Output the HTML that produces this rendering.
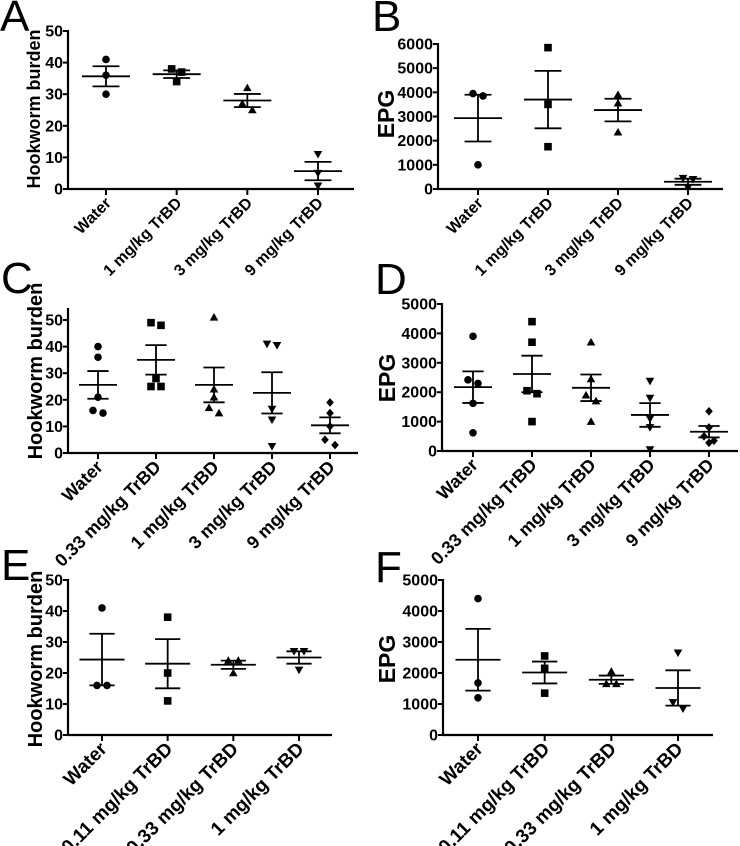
<!DOCTYPE html>
<html><head><meta charset="utf-8">
<style>
html,body{margin:0;padding:0;background:#fff;}
svg{display:block;font-family:"Liberation Sans",Arial,sans-serif;}
</style></head>
<body>
<svg id="fig" width="740" height="846" viewBox="0 0 740 846" xmlns="http://www.w3.org/2000/svg"></svg>
<script>
// ---- Data ----
const catsA = ["Water","1 mg/kg TrBD","3 mg/kg TrBD","9 mg/kg TrBD"];
const valsA = [[41,36,30],[38,37,34],[32,27,25],[11,5,1]];
const ticksA = [0,10,20,30,40,50];

const catsB = ["Water","1 mg/kg TrBD","3 mg/kg TrBD","9 mg/kg TrBD"];
const valsB = [[3950,3850,1000],[5850,3500,1750],[3900,3550,2350],[450,400,50]];
const ticksB = [0,1000,2000,3000,4000,5000,6000];

const catsC = ["Water","0.33 mg/kg TrBD","1 mg/kg TrBD","3 mg/kg TrBD","9 mg/kg TrBD"];
const valsC = [[40,36,21,16,15],[49,48,28,25,25],[51,24,21,17,15],[41,40.5,16.5,12.5,2.5],[19,15,10,5,3]];
const ticksC = [0,10,20,30,40,50];

const catsD = ["Water","0.33 mg/kg TrBD","1 mg/kg TrBD","3 mg/kg TrBD","9 mg/kg TrBD"];
const valsD = [[3900,2420,2300,1620,620],[4400,3700,2050,1950,1000],[3700,2450,1900,1700,1000],[2380,1800,1100,800,50],[1350,800,500,350,280]];
const ticksD = [0,1000,2000,3000,4000,5000];

const catsE = ["Water","0.11 mg/kg TrBD","0.33 mg/kg TrBD","1 mg/kg TrBD"];
const valsE = [[41,16,16],[38,20,11],[24,24,20],[27,27,21]];
const ticksE = [0,10,20,30,40,50];

const catsF = ["Water","0.11 mg/kg TrBD","0.33 mg/kg TrBD","1 mg/kg TrBD"];
const valsF = [[4400,1680,1200],[2550,2150,1350],[2050,1650,1650],[2650,1050,850]];
const ticksF = [0,1000,2000,3000,4000,5000];

const markers = ["circle","square","triangle","tridown","diamond"];
const NS = "http://www.w3.org/2000/svg";
const svg = document.getElementById('fig');

function mk(tag, attrs, parent){
  const e = document.createElementNS(NS, tag);
  for (const k in attrs) e.setAttribute(k, attrs[k]);
  (parent||svg).appendChild(e);
  return e;
}

function marker(g, type, x, y){
  const r = 3.8;
  let e;
  if (type==="circle") e = mk('circle',{cx:x,cy:y,r:r,fill:'#000'},g);
  else if (type==="square") e = mk('rect',{x:x-r,y:y-r,width:2*r,height:2*r,fill:'#000'},g);
  else if (type==="triangle") e = mk('polygon',{points:`${x},${y-r-0.5} ${x-r-0.5},${y+r-0.5} ${x+r+0.5},${y+r-0.5}`,fill:'#000'},g);
  else if (type==="tridown") e = mk('polygon',{points:`${x},${y+r+0.5} ${x-r-0.5},${y-r+0.5} ${x+r+0.5},${y-r+0.5}`,fill:'#000'},g);
  else e = mk('polygon',{points:`${x},${y-r-0.5} ${x+r},${y} ${x},${y+r+0.5} ${x-r},${y}`,fill:'#000'},g);
  
  
}

function panel(p){
  const g = mk('g',{});
  
  
  const ymax = p.ticks[p.ticks.length-1];
  const y = v => p.y0 - (v/ymax)*(p.y0 - p.yTop);
  const n = p.cats.length;
  const x = i => p.cx0 + i*(p.cx1 - p.cx0)/(n-1);

  const L = mk('text',{x:p.lx,y:p.ly,'font-size':44,fill:'#000'},g);
  L.textContent = p.letter;
  
  

  const yax = mk('line',{x1:p.ax,y1:p.axTop,x2:p.ax,y2:p.y0+1,stroke:'#000','stroke-width':2.2},g);
  
  
  const xax = mk('line',{x1:p.ax-1,y1:p.y0,x2:p.axEnd,y2:p.y0,stroke:'#000','stroke-width':2.2},g);
  
  

  p.ticks.forEach(t=>{
    mk('line',{x1:p.ax-5,y1:y(t),x2:p.ax,y2:y(t),stroke:'#000','stroke-width':2},g);
    const tl = mk('text',{x:p.ax-5,y:y(t)+5.5,'font-size':16,'font-weight':'bold','text-anchor':'end'},g);
    tl.textContent = t;
    
    
  });

  const tt = mk('text',{x:0,y:0,'font-size':p.titleSize,'font-weight':'bold','text-anchor':'middle',transform:`translate(${p.tx},${p.ty}) rotate(-90)`},g);
  tt.textContent = p.title;
  
  

  p.cats.forEach((c,i)=>{
    const cx = x(i);
    mk('line',{x1:cx,y1:p.y0,x2:cx,y2:p.y0+6,stroke:'#000','stroke-width':2},g);
    const cl = mk('text',{x:0,y:0,'font-size':p.catSize,'font-weight':'bold','text-anchor':'end',transform:`translate(${cx+6},${p.y0+15}) rotate(-45)`},g);
    cl.textContent = c;
    
    

    const vals = p.vals[i];
    const m = vals.reduce((a,b)=>a+b,0)/vals.length;
    const sd = Math.sqrt(vals.reduce((a,b)=>a+(b-m)*(b-m),0)/(vals.length-1));
    const se = sd/Math.sqrt(vals.length);
    const hw = p.meanW/2, cw = p.meanW*0.28;
    const ml = mk('line',{x1:cx-hw,y1:y(m),x2:cx+hw,y2:y(m),stroke:'#000','stroke-width':1.8},g);
    
    
    mk('line',{x1:cx,y1:y(m+se),x2:cx,y2:y(m-se),stroke:'#000','stroke-width':1.8},g);
    mk('line',{x1:cx-cw,y1:y(m+se),x2:cx+cw,y2:y(m+se),stroke:'#000','stroke-width':1.8},g);
    mk('line',{x1:cx-cw,y1:y(m-se),x2:cx+cw,y2:y(m-se),stroke:'#000','stroke-width':1.8},g);

    const ys = vals.map(v=>y(v));
    const off = ys.map(()=>0);
    for (let a=0;a<ys.length;a++){
      for (let b=0;b<a;b++){
        if (Math.abs(ys[a]-ys[b])<7 && off[a]===off[b]){
          off[b] = off[b]===0 ? -5 : off[b];
          off[a] = off[b] <= 0 ? 5 : -5;
        }
      }
    }
    vals.forEach((v,k)=>marker(g, markers[i], cx+off[k], ys[k]));
  });
}

panel({letter:'A',lx:0,ly:31,cats:catsA,vals:valsA,ticks:ticksA,y0:189,yTop:31,axTop:30,ax:68,axEnd:354,cx0:106,cx1:318,meanW:48,title:'Hookworm burden',titleSize:18,tx:40,ty:109,catSize:16});
panel({letter:'B',lx:372,ly:31,cats:catsB,vals:valsB,ticks:ticksB,y0:189,yTop:44,axTop:43,ax:438,axEnd:723,cx0:478,cx1:688,meanW:48,title:'EPG',titleSize:23,tx:394,ty:114,catSize:16});
panel({letter:'C',lx:1,ly:293,cats:catsC,vals:valsC,ticks:ticksC,y0:453,yTop:320,axTop:308,ax:68,axEnd:358,cx0:98,cx1:330,meanW:38,title:'Hookworm burden',titleSize:20,tx:42,ty:371,catSize:18});
panel({letter:'D',lx:375,ly:294,cats:catsD,vals:valsD,ticks:ticksD,y0:451,yTop:304,axTop:303,ax:442,axEnd:738,cx0:473,cx1:709,meanW:38,title:'EPG',titleSize:23,tx:395,ty:378,catSize:18});
panel({letter:'E',lx:1,ly:580,cats:catsE,vals:valsE,ticks:ticksE,y0:735,yTop:580,axTop:579,ax:68,axEnd:332,cx0:102,cx1:299,meanW:45,title:'Hookworm burden',titleSize:20,tx:42,ty:659,catSize:19});
panel({letter:'F',lx:375,ly:582,cats:catsF,vals:valsF,ticks:ticksF,y0:735,yTop:580,axTop:579,ax:443,axEnd:713,cx0:478,cx1:678,meanW:45,title:'EPG',titleSize:23,tx:395,ty:659,catSize:19});
</script>
</body></html>
